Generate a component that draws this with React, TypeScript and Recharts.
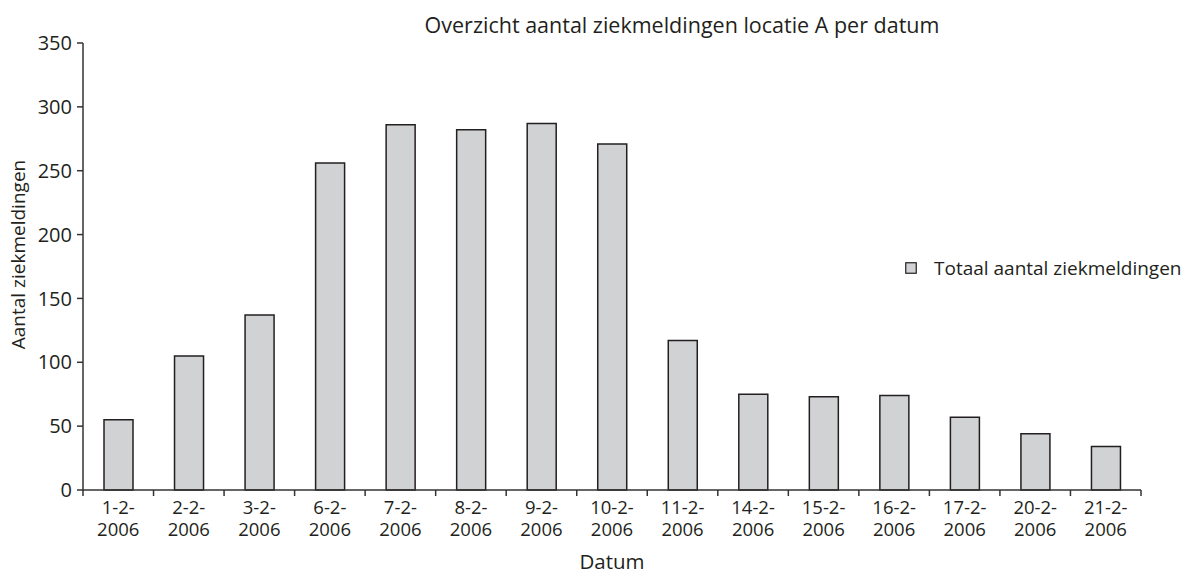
import React from "react";
import { BarChart, Bar, XAxis, YAxis } from "recharts";

// Daily sick reports, location A
const dates = [
  "1-2-2006", "2-2-2006", "3-2-2006", "6-2-2006", "7-2-2006",
  "8-2-2006", "9-2-2006", "10-2-2006", "11-2-2006", "14-2-2006",
  "15-2-2006", "16-2-2006", "17-2-2006", "20-2-2006", "21-2-2006",
];
const totals = [55, 105, 137, 256, 286, 282, 287, 271, 117, 75, 73, 74, 57, 44, 34];
const yTicks = [0, 50, 100, 150, 200, 250, 300, 350];

const seriesName = "Totaal aantal ziekmeldingen";
const data = dates.map((d, i) => ({ datum: d, totaal: totals[i] }));

const FONT = "'Open Sans', 'Noto Sans', sans-serif";
const INK = "#231f20";
const BAR_FILL = "#d1d2d4";

// Two-line date label with tick marks on the category boundaries
const DateTick = (props: any) => {
  const { x, y, payload, index } = props;
  const half = payload.offset || 0;
  const text = String(payload.value);
  const cut = text.lastIndexOf("-") + 1;
  const isLast = index === dates.length - 1;
  const textProps = { textAnchor: "middle" as const, fontSize: 18.5, fontFamily: FONT, fill: INK };
  return (
    <g>
      <line x1={x - half} x2={x - half} y1={y} y2={y + 6} stroke="#333" strokeWidth={1.5} />
      {isLast && (
        <line x1={x + half} x2={x + half} y1={y} y2={y + 6} stroke="#333" strokeWidth={1.5} />
      )}
      <text x={x} y={y + 24} {...textProps}>{text.slice(0, cut)}</text>
      <text x={x} y={y + 46} {...textProps}>{text.slice(cut)}</text>
    </g>
  );
};

// Rotated y-axis title
const YTitle = (props: any) => {
  const vb = props.viewBox || { x: 0, y: 0, width: 0, height: 0 };
  const cx = vb.x + 18;
  const cy = vb.y + vb.height / 2 - 12;
  return (
    <text
      x={cx}
      y={cy}
      transform={`rotate(-90 ${cx} ${cy})`}
      textAnchor="middle"
      dominantBaseline="central"
      fontFamily={FONT}
      fontSize={19}
      fill={INK}
    >
      Aantal ziekmeldingen
    </text>
  );
};

export default function App() {
  return (
    <div style={{ position: "absolute", left: 0, top: 0, width: 1186, height: 570, background: "#fff" }}>
      <div
        style={{
          position: "absolute",
          left: 282,
          width: 800,
          top: 11,
          textAlign: "center",
          fontFamily: FONT,
          fontSize: 21.5,
          lineHeight: "28px",
          color: INK,
          whiteSpace: "nowrap",
        }}
      >
        Overzicht aantal ziekmeldingen locatie A per datum
      </div>
      <div
        style={{
          position: "absolute",
          left: 905,
          top: 255,
          display: "flex",
          alignItems: "center",
          fontFamily: FONT,
          fontSize: 19,
          lineHeight: "26px",
          color: INK,
          whiteSpace: "nowrap",
        }}
      >
        <svg width={12} height={12} style={{ marginRight: 17 }}>
          <rect x={0.75} y={0.75} width={10.5} height={10.5} fill={BAR_FILL} stroke={INK} strokeWidth={1.2} />
        </svg>
        <span>{seriesName}</span>
      </div>
      <BarChart
        width={1186}
        height={570}
        data={data}
        margin={{ top: 43, right: 45, bottom: 0, left: 0 }}
        barCategoryGap={0}
      >
        <XAxis
          dataKey="datum"
          height={80}
          tickSize={0}
          tickMargin={0}
          tickLine={false}
          axisLine={{ stroke: "#333", strokeWidth: 1.5 }}
          interval={0}
          tick={<DateTick />}
          label={{
            value: "Datum",
            position: "insideBottom",
            offset: 1,
            style: { fontFamily: FONT, fontSize: 20.5, fill: INK },
          }}
        />
        <YAxis
          width={83}
          domain={[0, 350]}
          ticks={yTicks}
          interval={0}
          tickSize={6}
          tickMargin={5}
          tickLine={{ stroke: "#333", strokeWidth: 1.5 }}
          axisLine={{ stroke: "#333", strokeWidth: 1.5 }}
          tick={{ fontFamily: FONT, fontSize: 20, fill: INK }}
          label={<YTitle />}
        />
        <Bar
          dataKey="totaal"
          name={seriesName}
          fill={BAR_FILL}
          stroke={INK}
          strokeWidth={1.5}
          barSize={29}
          isAnimationActive={false}
        />
      </BarChart>
    </div>
  );
}
